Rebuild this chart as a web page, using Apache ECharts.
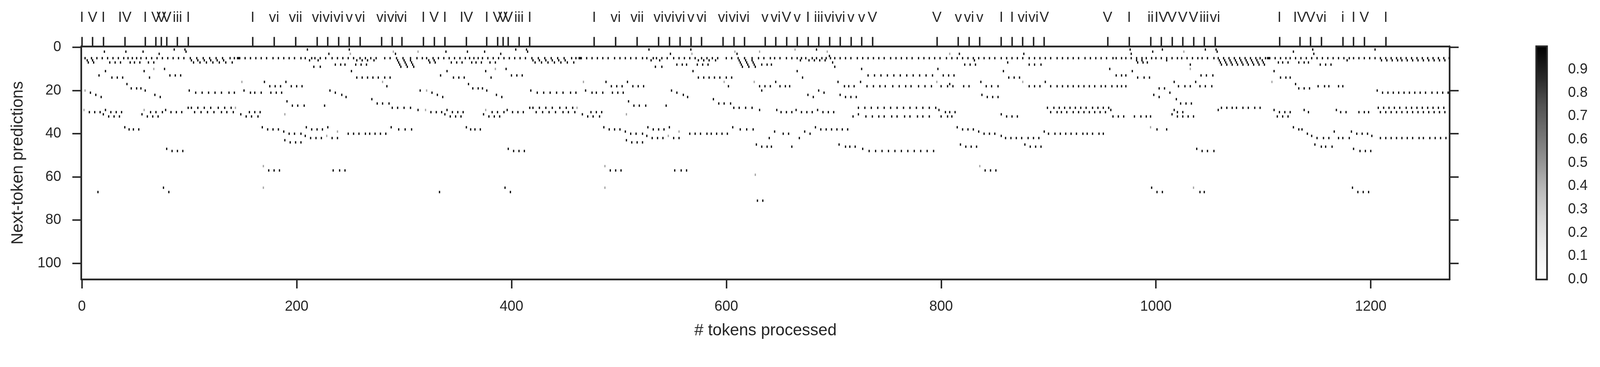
<!DOCTYPE html>
<html lang="en">
<head>
<meta charset="UTF-8">
<title>Next-token predictions</title>
<script src="https://cdn.jsdelivr.net/npm/echarts@6/dist/echarts.min.js"></script>
<style>
html,body{margin:0;padding:0;background:#fff;overflow:hidden}
#chartBox{width:100vw;height:100vh}
</style>
</head>
<body>
<div id="chartBox"></div>
<script>
// size of the prediction map
const tokenCount = 1274;
const rowCount = 108;

// axis ticks
const xTicks = [0, 200, 400, 600, 800, 1000, 1200];
const yTicks = [0, 20, 40, 60, 80, 100];
const cbarTicks = [0, 0.1, 0.2, 0.3, 0.4, 0.5, 0.6, 0.7, 0.8, 0.9];

// chord marks on the top axis
const chordTicks = [0, 10, 20, 40, 59, 69, 74, 79, 89, 99, 159, 179, 199, 219, 229, 239, 249, 259, 279, 289, 298,
    318, 328, 338, 358, 377, 387, 392, 397, 407, 417, 477, 497, 517, 537, 547, 557, 567, 577, 597, 607, 617,
    636, 646, 656, 666, 676, 686, 696, 706, 716, 726, 736, 796, 816, 826, 836, 856, 866, 876, 886, 896,
    955, 975, 995, 1005, 1015, 1025, 1035, 1045, 1055, 1115, 1134, 1144, 1154, 1174, 1184, 1194, 1214];
const chordNames = ['I', 'V', 'I', 'IV', 'I', 'V', 'V', 'V', 'iii', 'I', 'I', 'vi', 'vii', 'vi', 'vi', 'vi', 'v', 'vi', 'vi', 'vi', 'vi',
    'I', 'V', 'I', 'IV', 'I', 'V', 'V', 'V', 'iii', 'I', 'I', 'vi', 'vii', 'vi', 'vi', 'vi', 'v', 'vi', 'vi', 'vi', 'vi',
    'v', 'vi', 'V', 'v', 'I', 'iii', 'vi', 'vi', 'v', 'v', 'V', 'V', 'v', 'vi', 'v', 'I', 'I', 'vi', 'vi', 'V',
    'V', 'I', 'ii', 'IV', 'V', 'V', 'V', 'iii', 'vi', 'I', 'IV', 'V', 'vi', 'i', 'I', 'V', 'I'];

// dark cells: [row, [tokens]]
// first pass of the phrase (tokens 0-317)
const darkDotsA = [
    [1, [86, 96, 210, 249]],
    [2, [21, 41, 57, 97]],
    [3, [72, 230, 292]],
    [5, [3, 9, 14, 19, 24, 29, 34, 39, 43, 47, 51, 55, 60, 65, 70, 75, 80, 85, 90, 95, 101, 107, 113, 119, 125, 131, 138, 142, 145, 146, 147, 152, 157, 162, 167, 172, 178, 183, 188, 193, 198, 204, 208, 214, 217, 222, 227, 233, 238, 243, 248, 253, 259, 264, 269, 274, 282, 287, 293, 299, 306, 312, 317]],
    [6, [5, 10, 102, 108, 114, 120, 126, 132, 212, 220, 256, 261, 266, 272, 294, 300, 306]],
    [7, [6, 11, 26, 31, 36, 45, 49, 54, 62, 67, 104, 110, 116, 122, 128, 134, 140, 295, 301, 307]],
    [8, [236, 241, 245, 255, 260, 265, 296, 302, 308]],
    [9, [216, 222, 297, 303, 309]],
    [10, [77]],
    [11, [22, 58, 251]],
    [13, [16, 82, 87, 92]],
    [14, [28, 33, 38, 63, 256, 261, 266, 271, 276, 282, 287]],
    [16, [170, 190]],
    [17, [42]],
    [18, [175, 180, 185, 195, 200, 205, 284]],
    [19, [46, 51, 55]],
    [20, [59, 100, 151, 231, 315]],
    [21, [8, 106, 112, 118, 124, 130, 137, 142, 157, 161, 167, 176, 181, 186, 236]],
    [22, [13, 68, 242]],
    [23, [18, 73, 246]],
    [24, [270]],
    [25, [191]],
    [26, [275, 280, 286]],
    [27, [196, 201, 207, 226]],
    [28, [99, 102, 108, 114, 120, 127, 133, 139, 289, 294, 300, 306]],
    [29, [22, 78, 313]],
    [30, [7, 12, 17, 27, 32, 37, 64, 69, 75, 83, 88, 93, 105, 111, 117, 123, 130, 135, 141, 156, 161, 166]],
    [31, [20, 56, 148]],
    [32, [25, 30, 35, 61, 66, 71, 153, 158, 164]],
    [37, [40, 168, 209, 229, 288]],
    [38, [44, 48, 53, 173, 178, 183, 214, 219, 224, 295, 301, 307]],
    [39, [188]],
    [40, [193, 198, 204, 248, 253, 258, 264, 268, 273, 278, 283]],
    [41, [208]],
    [42, [213, 218, 223, 233, 238]],
    [43, [189]],
    [44, [194, 199, 204]],
    [47, [79]],
    [48, [84, 89, 94]],
    [57, [174, 179, 184, 234, 240, 245]],
    [65, [76]],
    [67, [15, 81]]
];
// second pass of the phrase (tokens 318-635)
const darkDotsB = [
    [1, [404, 414, 528, 567]],
    [2, [339, 359, 375, 415]],
    [3, [390, 548, 610]],
    [5, [321, 327, 332, 337, 342, 347, 352, 357, 361, 365, 369, 373, 378, 383, 388, 393, 398, 403, 408, 413, 419, 425, 431, 437, 443, 449, 456, 460, 463, 464, 465, 470, 475, 480, 485, 490, 496, 501, 506, 511, 516, 522, 526, 532, 535, 540, 545, 551, 556, 561, 566, 571, 577, 582, 587, 592, 600, 605, 611, 617, 624, 630, 635]],
    [6, [323, 328, 420, 426, 432, 438, 444, 450, 530, 538, 574, 579, 584, 590, 612, 618, 624]],
    [7, [324, 329, 344, 349, 354, 363, 367, 372, 380, 385, 422, 428, 434, 440, 446, 452, 458, 613, 619, 625]],
    [8, [554, 559, 563, 573, 578, 583, 614, 620, 626]],
    [9, [534, 540, 615, 621, 627]],
    [10, [395]],
    [11, [340, 376, 569]],
    [13, [334, 400, 405, 410]],
    [14, [346, 351, 356, 381, 574, 579, 584, 589, 594, 600, 605]],
    [16, [488, 508]],
    [17, [360]],
    [18, [493, 498, 503, 513, 518, 523, 602]],
    [19, [364, 369, 373]],
    [20, [377, 418, 469, 549, 633]],
    [21, [326, 424, 430, 436, 442, 448, 455, 460, 475, 479, 485, 494, 499, 504, 554]],
    [22, [331, 386, 560]],
    [23, [336, 391, 564]],
    [24, [588]],
    [25, [509]],
    [26, [593, 598, 604]],
    [27, [514, 519, 525, 544]],
    [28, [417, 420, 426, 432, 438, 445, 451, 457, 607, 612, 618, 624]],
    [29, [340, 396, 631]],
    [30, [325, 330, 335, 345, 350, 355, 382, 387, 393, 401, 406, 411, 423, 429, 435, 441, 448, 453, 459, 474, 479, 484]],
    [31, [338, 374, 466]],
    [32, [343, 348, 353, 379, 384, 389, 471, 476, 482]],
    [37, [358, 486, 527, 547, 606]],
    [38, [362, 366, 371, 491, 496, 501, 532, 537, 542, 613, 619, 625]],
    [39, [506]],
    [40, [511, 516, 522, 566, 571, 576, 582, 586, 591, 596, 601]],
    [41, [526]],
    [42, [531, 536, 541, 551, 556]],
    [43, [507]],
    [44, [512, 517, 522]],
    [47, [397]],
    [48, [402, 407, 412]],
    [57, [492, 497, 502, 552, 558, 563]],
    [65, [394]],
    [67, [333, 399]]
];
// new material (tokens 626-1273)
const darkDotsC = [
    [1, [684, 976, 1006, 1046, 1056, 1146, 1204]],
    [2, [997, 1057, 1128]],
    [3, [817, 877, 977, 1147]],
    [4, [696]],
    [5, [641, 645, 650, 656, 661, 666, 670, 674, 680, 684, 689, 693, 697, 701, 706, 711, 716, 722, 727, 732, 737, 742, 747, 753, 758, 763, 768, 773, 779, 784, 789, 794, 799, 805, 810, 815, 820, 825, 830, 835, 840, 845, 850, 856, 861, 866, 871, 876, 882, 887, 892, 897, 902, 908, 913, 918, 923, 928, 934, 939, 944, 949, 954, 960, 963, 968, 972, 977, 982, 987, 991, 996, 1000, 1005, 1010, 1015, 1020, 1024, 1029, 1034, 1039, 1043, 1048, 1054, 1058, 1063, 1068, 1073, 1078, 1083, 1088, 1093, 1097, 1102, 1104, 1105, 1106, 1111, 1116, 1121, 1125, 1130, 1135, 1140, 1145, 1150, 1155, 1160, 1165, 1170, 1175, 1180, 1184, 1189, 1194, 1199, 1204, 1209, 1214, 1219, 1224, 1228, 1233, 1238, 1243, 1248, 1253, 1258, 1263, 1268, 1273]],
    [6, [669, 677, 682, 687, 692, 831, 982, 987, 1010, 1059, 1064, 1069, 1074, 1079, 1084, 1089, 1094, 1099, 1178, 1210, 1215, 1220, 1225, 1229, 1234, 1239, 1244, 1249, 1254, 1259, 1264, 1269]],
    [7, [699, 862, 983, 988, 992, 1060, 1065, 1070, 1075, 1080, 1085, 1090, 1095, 1100, 1114, 1118, 1123, 1133, 1138, 1142]],
    [8, [633, 638, 642, 822, 827, 832, 882, 887, 893, 1032, 1061, 1066, 1071, 1076, 1081, 1086, 1091, 1096, 1101, 1153, 1158, 1163]],
    [9, [701]],
    [10, [726, 797, 957]],
    [11, [666, 858, 978, 1110]],
    [13, [732, 738, 744, 750, 756, 762, 768, 774, 780, 786, 792, 802, 807, 812, 963, 968, 972, 1042, 1047, 1053]],
    [14, [671, 863, 868, 873, 983, 989, 994, 1116, 1121, 1125]],
    [16, [646, 704, 725, 837, 897, 1017, 1037]],
    [17, [808, 1130]],
    [18, [631, 636, 641, 650, 655, 659, 710, 714, 719, 731, 737, 743, 748, 755, 761, 767, 772, 779, 785, 791, 800, 806, 811, 821, 826, 842, 847, 853, 882, 887, 892, 902, 908, 913, 918, 923, 928, 933, 938, 943, 949, 953, 959, 964, 968, 972, 1021, 1027, 1032, 1041, 1046, 1052, 1151, 1157, 1161, 1170, 1174]],
    [19, [1003, 1008, 1133, 1138, 1143]],
    [20, [686, 1206]],
    [21, [691, 1013, 1211, 1216, 1221, 1226, 1231, 1236, 1241, 1246, 1251, 1257, 1262, 1267, 1272]],
    [22, [676, 706, 838, 998]],
    [23, [681, 711, 716, 721, 843, 848, 853, 1003]],
    [24, [1019]],
    [26, [1023, 1028, 1033]],
    [28, [723, 729, 735, 741, 747, 753, 759, 765, 771, 777, 783, 789, 795, 899, 905, 910, 915, 920, 925, 930, 935, 941, 946, 951, 956, 1061, 1066, 1071, 1075, 1081, 1086, 1092, 1097, 1207, 1212, 1217, 1222, 1227, 1233, 1238, 1243, 1248, 1253, 1258, 1263, 1268]],
    [29, [647, 665, 685, 798, 958, 1017, 1058, 1110, 1138, 1168]],
    [30, [651, 656, 661, 670, 675, 680, 690, 695, 700, 804, 808, 813, 902, 908, 912, 917, 923, 928, 933, 938, 943, 948, 953, 1020, 1025, 1115, 1120, 1125, 1142, 1172, 1177, 1189, 1194, 1198, 1209, 1214, 1219, 1224, 1229, 1234, 1239, 1244, 1249, 1254, 1259, 1264, 1269]],
    [31, [723, 856, 1015]],
    [32, [718, 730, 736, 742, 747, 754, 759, 766, 771, 778, 783, 789, 800, 806, 810, 861, 866, 871, 960, 965, 970, 980, 986, 991, 995, 1020, 1025, 1030, 1035, 1113, 1118, 1123]],
    [37, [683, 815, 1128]],
    [38, [688, 693, 698, 703, 708, 713, 820, 825, 830, 1001, 1010, 1133, 1136]],
    [39, [645, 673, 835, 896, 1166, 1182]],
    [40, [653, 658, 678, 840, 845, 850, 900, 906, 911, 916, 921, 926, 932, 936, 941, 947, 951, 1141, 1187, 1192, 1197]],
    [41, [856, 1145, 1201]],
    [42, [640, 668, 860, 865, 870, 875, 881, 886, 891, 1150, 1156, 1161, 1170, 1174, 1180, 1209, 1214, 1219, 1224, 1229, 1234, 1239, 1245, 1249, 1255, 1260, 1265, 1270]],
    [45, [628, 705, 818, 878, 1148]],
    [46, [633, 638, 642, 661, 711, 715, 720, 823, 828, 833, 883, 888, 893, 1154, 1158, 1164]],
    [47, [727, 1038, 1184]],
    [48, [733, 739, 745, 751, 757, 763, 769, 775, 781, 787, 793, 1043, 1048, 1054, 1190, 1195, 1200]],
    [57, [841, 846, 851]],
    [65, [996, 1183]],
    [67, [1001, 1006, 1041, 1045, 1188, 1193, 1198]],
    [71, [629, 634]]
];
// mid-grey cells
const greyDots = [
    [1, [664]],
    [2, [290, 313, 608, 631, 694, 1026]],
    [3, [250, 568, 808]],
    [10, [67, 385, 1032]],
    [16, [149, 280, 467, 598, 626, 796, 876, 1108]],
    [20, [3, 321]],
    [28, [143, 461]],
    [29, [2, 58, 320, 376]],
    [31, [189, 507]],
    [37, [995]],
    [39, [238, 556]],
    [41, [228, 546]],
    [55, [169, 487, 836]],
    [59, [627]],
    [65, [169, 487, 1035]]
];
const darkLevel = 0.96;
const greyLevel = 0.45;

const ink = '#262626';
const font = 'Liberation Sans';
// matplotlib "Greys"
const greys = ['#ffffff', '#f0f0f0', '#d9d9d9', '#bdbdbd', '#969696', '#737373', '#525252', '#252525', '#000000'];

function collectCells(list, level, out) {
    list.forEach(function (item) {
        item[1].forEach(function (t) { out.push([t, item[0], level]); });
    });
}

// layout was measured on a 4290 x 939 picture, scale to the real box
function buildOption(s) {
    let cells = [];
    collectCells(greyDots, greyLevel, cells);
    collectCells(darkDotsA, darkLevel, cells);
    collectCells(darkDotsB, darkLevel, cells);
    collectCells(darkDotsC, darkLevel, cells);

    let tokens = [];
    for (let i = 0; i < tokenCount; i++) tokens.push(String(i));
    let rows = [];
    for (let i = 0; i < rowCount; i++) rows.push(String(i));

    let spine = {color: ink, width: 4.5 * s};
    let tickLine = {color: ink, width: 4 * s};
    let labelText = {fontSize: 38 * s, color: ink, fontFamily: font};
    let titleText = {fontSize: 44 * s, color: ink, fontFamily: font};
    let showX = function (i) { return xTicks.indexOf(i) >= 0; };
    let showY = function (i) { return yTicks.indexOf(i) >= 0; };
    let showChord = function (i) { return chordTicks.indexOf(i) >= 0; };

    return {
        backgroundColor: '#ffffff',
        animation: false,
        grid: [
            {left: 218 * s, top: 124 * s, width: 3669 * s, height: 625 * s, show: false},
            {left: 4119 * s, top: 124 * s, width: 29 * s, height: 625 * s, show: true,
                borderColor: ink, borderWidth: 4.5 * s, backgroundColor: 'transparent', z: 10}
        ],
        xAxis: [
            {
                type: 'category', gridIndex: 0, data: tokens, position: 'bottom',
                axisLine: {show: true, lineStyle: spine},
                axisTick: {show: true, alignWithLabel: true, length: 24 * s, lineStyle: tickLine, interval: showX},
                axisLabel: Object.assign({show: true, margin: 54 * s, interval: showX}, labelText),
                splitLine: {show: false},
                name: '# tokens processed', nameLocation: 'middle', nameGap: 115 * s,
                nameTextStyle: titleText
            },
            {
                type: 'category', gridIndex: 0, data: tokens, position: 'top',
                axisLine: {show: true, lineStyle: spine},
                axisTick: {show: true, alignWithLabel: true, length: 25 * s, lineStyle: tickLine, interval: showChord},
                axisLabel: Object.assign({show: true, margin: 57 * s, interval: showChord,
                    formatter: function (v) { return chordNames[chordTicks.indexOf(Number(v))] || ''; }}, labelText),
                splitLine: {show: false}
            },
            {type: 'value', gridIndex: 1, show: false, min: 0, max: 1}
        ],
        yAxis: [
            {
                type: 'category', gridIndex: 0, data: rows, inverse: true, position: 'left',
                axisLine: {show: true, lineStyle: spine},
                axisTick: {show: true, alignWithLabel: true, length: 24 * s, lineStyle: tickLine, interval: showY},
                axisLabel: Object.assign({show: true, margin: 54 * s, interval: showY}, labelText),
                splitLine: {show: false},
                name: 'Next-token predictions', nameLocation: 'middle', nameGap: 147 * s,
                nameTextStyle: titleText
            },
            {
                type: 'category', gridIndex: 0, data: rows, inverse: true, position: 'right',
                axisLine: {show: true, lineStyle: spine},
                axisTick: {show: true, alignWithLabel: true, length: 24 * s, lineStyle: tickLine, interval: showY},
                axisLabel: {show: false},
                splitLine: {show: false}
            },
            {
                type: 'value', gridIndex: 1, min: 0, max: 1, position: 'right',
                axisLine: {show: false},
                splitLine: {show: false},
                axisTick: {show: true, length: 22 * s, lineStyle: tickLine, customValues: cbarTicks},
                axisLabel: Object.assign({show: true, margin: 56 * s, customValues: cbarTicks,
                    formatter: function (v) { return v.toFixed(1); }}, labelText)
            }
        ],
        visualMap: {
            type: 'continuous', seriesIndex: 0, min: 0, max: 1,
            show: true, calculable: false, hoverLink: false,
            orient: 'vertical', left: 4119 * s, top: 124 * s, padding: 0,
            itemWidth: 29 * s, itemHeight: 625 * s,
            inRange: {color: greys}
        },
        series: [{
            type: 'heatmap', xAxisIndex: 0, yAxisIndex: 0,
            data: cells,
            emphasis: {disabled: true},
            progressive: 0
        }]
    };
}

let box = document.getElementById('chartBox');
let chartObj = echarts.init(box);
chartObj.setOption(buildOption(box.clientWidth / 4290));
</script>
</body>
</html>
